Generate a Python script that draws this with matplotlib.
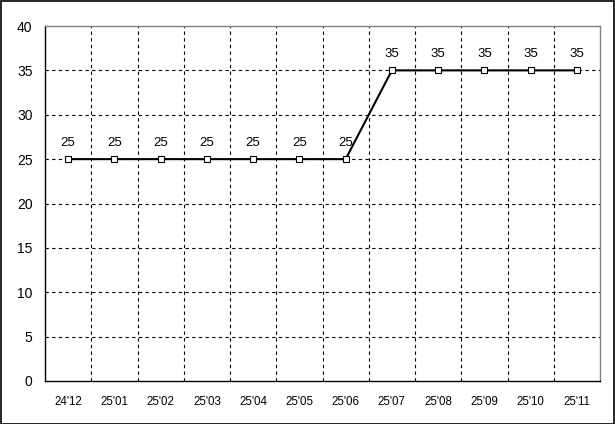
import matplotlib
matplotlib.use("Agg")
import matplotlib.pyplot as plt
from matplotlib.patches import Rectangle

months = ["24'12", "25'01", "25'02", "25'03", "25'04", "25'05",
          "25'06", "25'07", "25'08", "25'09", "25'10", "25'11"]
values = [25, 25, 25, 25, 25, 25, 25, 35, 35, 35, 35, 35]
yticks = [0, 5, 10, 15, 20, 25, 30, 35, 40]

plt.rcParams['font.family'] = ['Liberation Sans', 'DejaVu Sans']

fig = plt.figure(figsize=(6.15, 4.24), dpi=100)
ax = fig.add_axes([45/615, 43/424, 555/615, 355/424])

x = list(range(len(months)))
ax.plot(x, values, color='black', linewidth=1.5, marker='s', markersize=4.2,
        markerfacecolor='white', markeredgecolor='black', markeredgewidth=0.8,
        zorder=3)
for xi, v in zip(x, values):
    ax.annotate(str(v), (xi, v), xytext=(0, 7.5), textcoords='offset points',
                ha='center', va='bottom', fontsize=9.5)

ax.set_xlim(-0.5, len(months) - 0.5)
ax.set_ylim(0, 40)
ax.set_yticks(yticks)
ax.set_xticks(x)
ax.set_xticklabels(months, fontsize=8.3)
ax.tick_params(axis='y', labelsize=10, length=0, pad=9)
ax.tick_params(axis='x', length=0, pad=11)

# dashed grid: horizontal at y ticks, vertical at category boundaries
for yv in yticks[1:-1]:
    ax.axhline(yv, color='black', linewidth=0.8, linestyle=(0, (3, 3)), zorder=1)
for b in range(1, len(months)):
    ax.axvline(b - 0.5, color='black', linewidth=0.8, linestyle=(0, (3, 3)), zorder=1)

ax.spines['left'].set_color('black')
ax.spines['bottom'].set_color('black')
ax.spines['left'].set_linewidth(1.0)
ax.spines['bottom'].set_linewidth(1.0)
ax.spines['top'].set_color('#808080')
ax.spines['right'].set_color('#808080')
ax.spines['top'].set_linewidth(1.0)
ax.spines['right'].set_linewidth(1.0)

fig.patches.append(Rectangle((0.001, 0.001), 0.997, 0.997, transform=fig.transFigure,
                             fill=False, edgecolor='black', linewidth=1.2))

fig.savefig("out.png", dpi=100)
